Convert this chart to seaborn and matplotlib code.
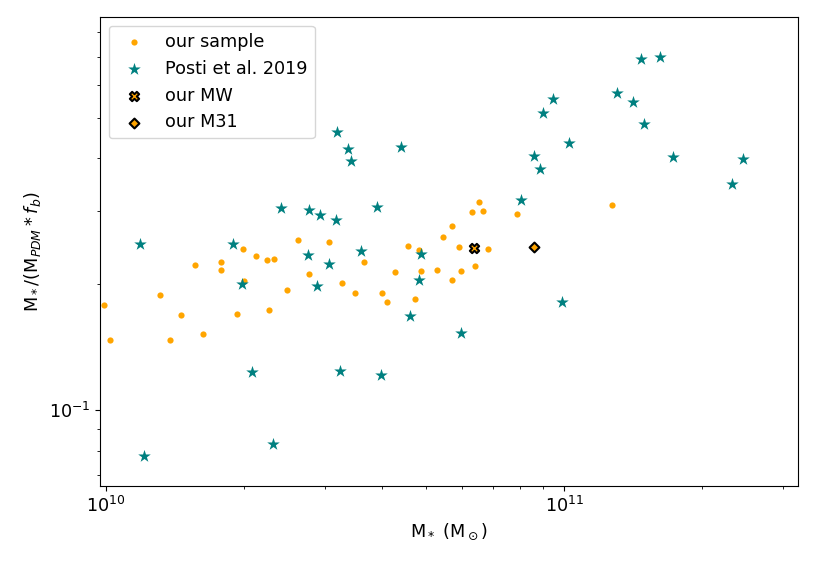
import matplotlib
matplotlib.use('Agg')
import matplotlib.pyplot as plt
import seaborn as sns

plt.rcParams['font.size'] = 12.7

# our sample (stellar mass in Msun, M*/(M_PDM*f_b))
sample_mstar = [0.9885e10, 1.022e10, 1.312e10, 1.378e10, 1.458e10, 1.562e10, 1.626e10,
                1.783e10, 1.783e10, 1.932e10, 1.994e10, 1.997e10, 2.123e10, 2.246e10,
                2.266e10, 2.331e10, 2.488e10, 2.63e10, 2.78e10, 3.07e10, 3.276e10,
                3.497e10, 3.66e10, 4.01e10, 4.108e10, 4.276e10, 4.56e10, 4.735e10,
                4.825e10, 4.87e10, 5.28e10, 5.435e10, 5.685e10, 5.69e10, 5.90e10,
                5.97e10, 6.305e10, 6.39e10, 6.52e10, 6.655e10, 6.825e10, 7.90e10,
                12.71e10]
sample_ratio = [0.178, 0.147, 0.188, 0.147, 0.169, 0.222, 0.152,
                0.226, 0.216, 0.170, 0.243, 0.203, 0.233, 0.228,
                0.1735, 0.230, 0.194, 0.255, 0.212, 0.252, 0.2016,
                0.190, 0.226, 0.1905, 0.181, 0.2135, 0.247, 0.184,
                0.241, 0.215, 0.2166, 0.260, 0.275, 0.205, 0.2455,
                0.2145, 0.298, 0.221, 0.3145, 0.299, 0.243, 0.294,
                0.310]

# Posti et al. 2019
posti_mstar = [3.19e10, 3.38e10, 3.42e10, 4.41e10, 2.41e10, 2.775e10, 2.93e10, 3.18e10,
               3.90e10, 1.186e10, 1.89e10, 3.61e10, 2.765e10, 3.07e10, 4.87e10, 1.984e10,
               2.884e10, 4.825e10, 4.61e10, 5.95e10, 2.08e10, 3.24e10, 3.985e10,
               14.73e10, 16.2e10, 13.03e10, 14.13e10, 9.48e10, 9.01e10, 14.93e10,
               10.25e10, 8.59e10, 8.85e10, 17.3e10, 24.6e10, 23.27e10, 8.06e10,
               9.90e10, 1.21e10, 2.315e10]
posti_ratio = [0.463, 0.421, 0.394, 0.425, 0.305, 0.301, 0.293, 0.284,
               0.306, 0.250, 0.249, 0.240, 0.235, 0.224, 0.236, 0.200,
               0.198, 0.205, 0.168, 0.153, 0.123, 0.124, 0.121,
               0.690, 0.700, 0.573, 0.546, 0.556, 0.514, 0.483,
               0.436, 0.406, 0.378, 0.402, 0.399, 0.347, 0.3175,
               0.181, 0.0776, 0.0828]

mw_mstar = [6.345e10]
mw_ratio = [0.244]
m31_mstar = [8.60e10]
m31_ratio = [0.2455]

fig = plt.figure(figsize=(8.17, 5.63), dpi=100)
ax = fig.add_axes([0.1224, 0.1368, 0.8543, 0.833])

sns.scatterplot(x=sample_mstar, y=sample_ratio, ax=ax, color='orange', marker='o',
                s=20, linewidth=0, label='our sample')
sns.scatterplot(x=posti_mstar, y=posti_ratio, ax=ax, color='teal', marker='*',
                s=90, linewidth=0, label='Posti et al. 2019')
sns.scatterplot(x=mw_mstar, y=mw_ratio, ax=ax, color='orange', marker='X',
                s=45, edgecolor='black', linewidth=1.5, label='our MW')
sns.scatterplot(x=m31_mstar, y=m31_ratio, ax=ax, color='orange', marker='D',
                s=25, edgecolor='black', linewidth=1.5, label='our M31')

ax.set_xscale('log')
ax.set_yscale('log')
ax.set_xlim(0.970e10, 3.24e11)
ax.set_ylim(0.0658, 0.871)

ax.set_xlabel(r'M$_*$ (M$_\odot$)')
ax.set_ylabel(r'M$_*$/(M$_{PDM}*f_b$)')
ax.legend(loc='upper left')

fig.savefig('out.png', dpi=100)
